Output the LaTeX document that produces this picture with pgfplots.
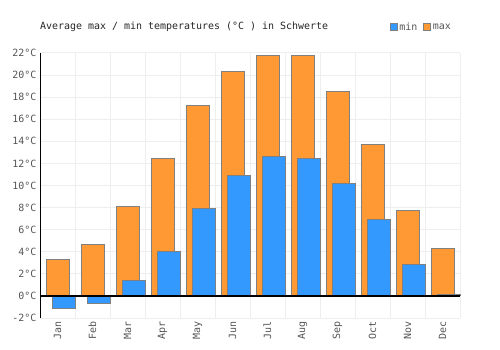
\documentclass[border=0pt]{standalone}
\usepackage{pgfplots}
\pgfplotsset{compat=1.18}
\usepackage{fontspec}
\setmainfont{DejaVu Sans Mono}
\definecolor{minc}{RGB}{51,153,255}
\definecolor{maxc}{RGB}{255,153,51}
\definecolor{txt}{RGB}{85,85,85}
\definecolor{gridc}{RGB}{238,238,238}
\definecolor{barb}{RGB}{128,128,128}
\begin{document}
\begin{tikzpicture}
\useasboundingbox (0,0) rectangle (500bp,350bp);
\begin{axis}[
  at={(40bp,32bp)}, anchor=south west,
  scale only axis, width=420bp, height=265bp,
  xmin=-0.5, xmax=11.5, ymin=-2, ymax=22,
  xtick={0,1,2,3,4,5,6,7,8,9,10,11},
  xticklabels={Jan,Feb,Mar,Apr,May,Jun,Jul,Aug,Sep,Oct,Nov,Dec},
  minor xtick={-0.5,0.5,1.5,2.5,3.5,4.5,5.5,6.5,7.5,8.5,9.5,10.5,11.5},
  ytick={-2,0,2,4,6,8,10,12,14,16,18,20,22},
  xminorgrids=true, ymajorgrids=true, xmajorgrids=false,
  grid style={gridc, line width=1bp},
  minor grid style={gridc, line width=1bp},
  major tick length=0pt, minor tick length=0pt,
  axis line style={draw=none},
  tick label style={font=\fontsize{10}{12}\selectfont, text=txt},
  xticklabel style={rotate=90, anchor=east, xshift=0bp, yshift=0bp},
  yticklabel={\pgfmathprintnumber{\tick}°C},
  /pgf/number format/assume math mode=true,
  clip=false,
  legend style={at={(0.833,1.098)}, anchor=west, draw=none, fill=none,
    legend columns=2, font=\fontsize{10}{12}\selectfont, text=txt,
    inner sep=0pt,
    /tikz/every even column/.append style={column sep=4bp}},
  legend cell align=left,
  legend image code/.code={\draw[#1] (0bp,-3.5bp) rectangle (7bp,3.5bp);},
]
\addlegendimage{fill=minc, draw=barb}
\addlegendentry{min}
\addlegendimage{fill=maxc, draw=barb}
\addlegendentry{max}
\addplot[ybar, bar width=23bp, bar shift=0.5bp, fill=maxc, draw=barb, line width=1bp, forget plot]
  coordinates {(0,3.3) (1,4.7) (2,8.1) (3,12.4) (4,17.2) (5,20.3) (6,21.8) (7,21.8) (8,18.5) (9,13.7) (10,7.7) (11,4.3)};
\addplot[ybar, bar width=23bp, bar shift=6bp, fill=minc, draw=barb, line width=1bp, forget plot]
  coordinates {(0,-1.1) (1,-0.7) (2,1.4) (3,4.0) (4,7.9) (5,10.9) (6,12.6) (7,12.4) (8,10.2) (9,6.9) (10,2.8) (11,0.1)};
\draw[black, line width=1.3bp] (axis cs:-0.5,0) -- (axis cs:11.5,0);
\draw[black, line width=1bp] (rel axis cs:0,0) -- (rel axis cs:0,1);
\node[anchor=west, inner sep=0pt, font=\fontsize{10}{12}\selectfont, text=black!85] at (rel axis cs:0,1.098) {Average max / min temperatures (°C ) in Schwerte};
\end{axis}
\end{tikzpicture}
\end{document}
